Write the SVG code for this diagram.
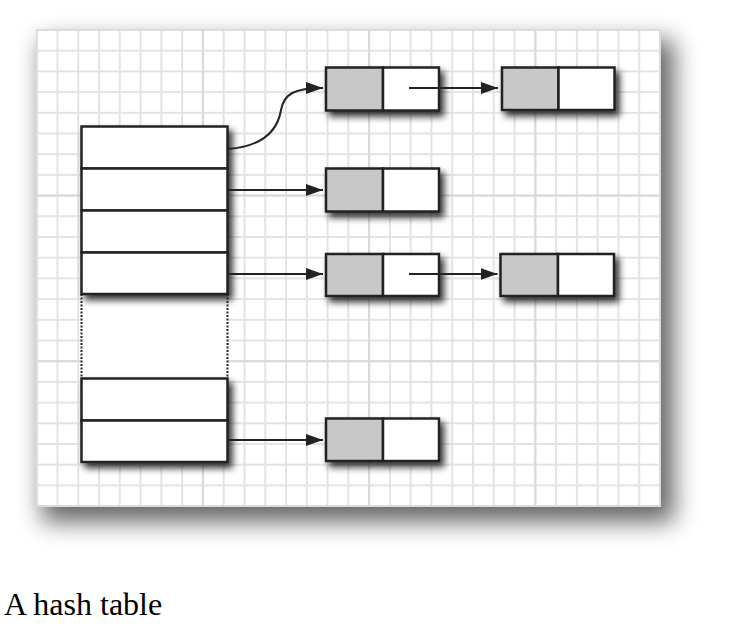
<svg xmlns="http://www.w3.org/2000/svg" width="733" height="631" viewBox="0 0 733 631">
<style>
.box{fill:#fff;stroke:#222;stroke-width:2.5}
.gray{fill:#c8c8c8;stroke:#222;stroke-width:2.5}
.conn{fill:none;stroke:#222;stroke-width:2;marker-end:url(#ah)}
.major{stroke:#d9d9d9;stroke-width:2;fill:none}
.dot{stroke:#222;stroke-width:2;stroke-dasharray:2 1.5;fill:none}
.cap{font-family:"Liberation Serif","Times New Roman",serif;font-size:32px;fill:#000}
</style>
<defs>
<pattern id="grid" x="35.7" y="29" width="20.777" height="20.7" patternUnits="userSpaceOnUse">
<path d="M1,0V20.7M0,1H20.777" stroke="#e3e3e3" stroke-width="2" fill="none"/>
</pattern>
<filter id="pshadow" x="-15%" y="-15%" width="130%" height="135%">
<feGaussianBlur stdDeviation="12"/>
</filter>
<filter id="bshadow" x="-20%" y="-20%" width="150%" height="160%">
<feGaussianBlur in="SourceAlpha" stdDeviation="3.5"/>
<feOffset dx="4" dy="5" result="b"/>
<feComponentTransfer in="b" result="s"><feFuncA type="linear" slope="0.8"/></feComponentTransfer>
<feMerge><feMergeNode in="s"/><feMergeNode in="SourceGraphic"/></feMerge>
</filter>
<marker id="ah" markerUnits="userSpaceOnUse" markerWidth="17" markerHeight="13" refX="17" refY="6.5" orient="auto">
<path d="M0,0.5 L17,6.5 L0,12.5 z" fill="#222"/>
</marker>
</defs>

<g id="panel">
<rect x="42" y="40" width="632" height="482" fill="#000" opacity="0.6" filter="url(#pshadow)"/>
<rect x="36.7" y="30" width="623.3" height="476" fill="#fff"/>
<rect x="36.7" y="30" width="623.3" height="476" fill="url(#grid)"/>
<path class="major" d="M202.9,30V506M369.1,30V506M535.3,30V506M36.7,195.6H660M36.7,361.2H660"/>
<rect x="36.7" y="30" width="623.3" height="476" fill="none" stroke="#dcdcdc" stroke-width="2"/>
</g>

<g id="table">
<rect x="81.5" y="294" width="146" height="84" fill="#fff"/>
<g filter="url(#bshadow)">
<rect class="box" x="81.5" y="126.5" width="146" height="42"/>
<rect class="box" x="81.5" y="168.5" width="146" height="42"/>
<rect class="box" x="81.5" y="210.5" width="146" height="42"/>
<rect class="box" x="81.5" y="252.5" width="146" height="41.5"/>
</g>
<path class="dot" d="M81.5,294V378M227.5,294V378"/>
<g filter="url(#bshadow)">
<rect class="box" x="81.5" y="378.5" width="146" height="42"/>
<rect class="box" x="81.5" y="420.5" width="146" height="41.5"/>
</g>
</g>

<g id="nodeA" filter="url(#bshadow)">
<rect class="gray" x="326" y="67.5" width="57" height="43"/>
<rect class="box" x="383" y="67.5" width="56" height="43"/>
</g>
<g id="nodeB" filter="url(#bshadow)">
<rect class="gray" x="502" y="67.5" width="56.5" height="42.5"/>
<rect class="box" x="558.5" y="67.5" width="56" height="42.5"/>
</g>
<g id="nodeC" filter="url(#bshadow)">
<rect class="gray" x="326" y="168.5" width="57" height="43"/>
<rect class="box" x="383" y="168.5" width="56" height="43"/>
</g>
<g id="nodeD" filter="url(#bshadow)">
<rect class="gray" x="326" y="254" width="57" height="42"/>
<rect class="box" x="383" y="254" width="56" height="42"/>
</g>
<g id="nodeE" filter="url(#bshadow)">
<rect class="gray" x="500.5" y="254" width="57.5" height="42"/>
<rect class="box" x="558" y="254" width="56" height="42"/>
</g>
<g id="nodeF" filter="url(#bshadow)">
<rect class="gray" x="326" y="418.5" width="57" height="42.5"/>
<rect class="box" x="383" y="418.5" width="56" height="42.5"/>
</g>

<g id="connectors">
<path class="conn" d="M228,149 C266,146 278,128 281,110 C284,94 294,88 323,88"/>
<path class="conn" d="M228,190 H323"/>
<path class="conn" d="M409,88 H498"/>
<path class="conn" d="M228,274 H323"/>
<path class="conn" d="M409,274 H497.5"/>
<path class="conn" d="M228,440 H323"/>
</g>

<text class="cap" x="4" y="615">A hash table</text>
</svg>
